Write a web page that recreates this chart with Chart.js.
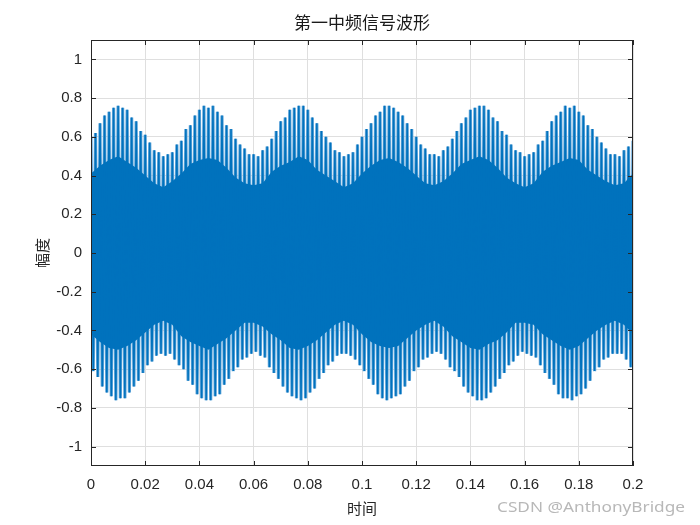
<!DOCTYPE html>
<html>
<head>
<meta charset="utf-8">
<title>第一中频信号波形</title>
<script src="https://cdn.jsdelivr.net/npm/chart.js@4.4.1/dist/chart.umd.min.js"></script>
<style>
    html, body { margin: 0; padding: 0; background: #fff; }
    #wrap { width: 700px; height: 525px; }
</style>
</head>
<body>
<div id="wrap"><canvas id="waveChart" width="700" height="525"></canvas></div>
<script>
// axis ticks
const xTicks = [0, 0.02, 0.04, 0.06, 0.08, 0.1, 0.12, 0.14, 0.16, 0.18, 0.2];
const xTickLabels = ['0', '0.02', '0.04', '0.06', '0.08', '0.1', '0.12', '0.14', '0.16', '0.18', '0.2'];
const yTicks = [-1, -0.8, -0.6, -0.4, -0.2, 0, 0.2, 0.4, 0.6, 0.8, 1];
const yTickLabels = ['-1', '-0.8', '-0.6', '-0.4', '-0.2', '0', '0.2', '0.4', '0.6', '0.8', '1'];

// spike tips, 120 spikes over 0.2 s
const spikeStep = 0.2 / 120;
const upperTips = [
    0.60, 0.62, 0.67, 0.71, 0.73, 0.75, 0.76, 0.75, 0.74, 0.70, 0.68, 0.63, 0.61, 0.57, 0.53, 0.52, 0.50, 0.51, 0.52, 0.56,
    0.58, 0.64, 0.66, 0.71, 0.74, 0.76, 0.75, 0.76, 0.73, 0.71, 0.66, 0.64, 0.59, 0.56, 0.54, 0.51, 0.51, 0.50, 0.53, 0.55,
    0.59, 0.63, 0.68, 0.70, 0.74, 0.75, 0.76, 0.76, 0.74, 0.70, 0.67, 0.63, 0.60, 0.57, 0.53, 0.52, 0.50, 0.51, 0.52, 0.56,
    0.60, 0.64, 0.67, 0.71, 0.73, 0.76, 0.76, 0.75, 0.73, 0.71, 0.67, 0.64, 0.60, 0.56, 0.54, 0.51, 0.51, 0.50, 0.53, 0.55,
    0.59, 0.63, 0.67, 0.70, 0.74, 0.75, 0.76, 0.76, 0.74, 0.70, 0.68, 0.63, 0.61, 0.56, 0.53, 0.52, 0.50, 0.51, 0.52, 0.56,
    0.58, 0.63, 0.68, 0.71, 0.73, 0.76, 0.75, 0.76, 0.73, 0.71, 0.66, 0.64, 0.60, 0.57, 0.54, 0.51, 0.51, 0.50, 0.53, 0.55,
    0.58
];
const lowerTips = [
    -0.61, -0.64, -0.69, -0.72, -0.74, -0.76, -0.75, -0.75, -0.72, -0.69, -0.66, -0.62, -0.58, -0.56, -0.53, -0.52, -0.53, -0.52, -0.55, -0.58,
    -0.60, -0.66, -0.68, -0.73, -0.75, -0.76, -0.76, -0.74, -0.73, -0.68, -0.65, -0.61, -0.59, -0.55, -0.54, -0.52, -0.51, -0.53, -0.54, -0.59,
    -0.62, -0.65, -0.69, -0.72, -0.74, -0.75, -0.76, -0.75, -0.72, -0.70, -0.65, -0.62, -0.58, -0.56, -0.53, -0.52, -0.52, -0.53, -0.55, -0.58,
    -0.61, -0.65, -0.68, -0.73, -0.75, -0.76, -0.75, -0.74, -0.73, -0.69, -0.66, -0.61, -0.59, -0.55, -0.54, -0.52, -0.51, -0.52, -0.55, -0.59,
    -0.61, -0.64, -0.69, -0.72, -0.74, -0.76, -0.76, -0.75, -0.72, -0.69, -0.65, -0.62, -0.58, -0.56, -0.53, -0.51, -0.52, -0.53, -0.54, -0.58,
    -0.62, -0.65, -0.68, -0.73, -0.75, -0.75, -0.76, -0.74, -0.73, -0.70, -0.66, -0.61, -0.59, -0.55, -0.54, -0.52, -0.52, -0.52, -0.55, -0.59
];

// solid inner band (dense carrier), 61 samples over 0.2 s
const coreStep = 0.2 / 60;
const coreTop = [
    0.41, 0.45, 0.48, 0.50, 0.47, 0.44, 0.40, 0.36, 0.34, 0.37,
    0.41, 0.46, 0.48, 0.49, 0.48, 0.44, 0.39, 0.36, 0.35, 0.36,
    0.42, 0.45, 0.47, 0.50, 0.48, 0.43, 0.40, 0.37, 0.34, 0.36,
    0.41, 0.45, 0.48, 0.49, 0.47, 0.44, 0.40, 0.36, 0.35, 0.37,
    0.41, 0.46, 0.48, 0.50, 0.48, 0.44, 0.39, 0.36, 0.34, 0.36,
    0.42, 0.45, 0.47, 0.49, 0.48, 0.43, 0.40, 0.37, 0.35, 0.36,
    0.41
];
const coreBottom = [
    -0.42, -0.46, -0.49, -0.50, -0.48, -0.45, -0.41, -0.37, -0.35, -0.37,
    -0.43, -0.46, -0.48, -0.50, -0.47, -0.44, -0.40, -0.36, -0.36, -0.38,
    -0.42, -0.45, -0.49, -0.50, -0.48, -0.45, -0.41, -0.37, -0.35, -0.37,
    -0.42, -0.46, -0.48, -0.49, -0.48, -0.44, -0.40, -0.37, -0.35, -0.38,
    -0.43, -0.46, -0.49, -0.50, -0.47, -0.45, -0.41, -0.36, -0.36, -0.37,
    -0.42, -0.45, -0.48, -0.50, -0.48, -0.44, -0.40, -0.37, -0.35, -0.37,
    -0.42
];

const lineBlue = '#0072BD';
const lightBlue = '#62a6da';
const axisColor = '#262626';

// zigzag between upper and lower tips
const zigzag = [];
for (let i = 0; i < lowerTips.length; i++) {
    zigzag.push({ x: i * spikeStep, y: upperTips[i] });
    zigzag.push({ x: (i + 0.5) * spikeStep, y: lowerTips[i] });
}
zigzag.push({ x: lowerTips.length * spikeStep, y: upperTips[lowerTips.length] });

const coreTopPts = coreTop.map((v, j) => ({ x: j * coreStep, y: v }));
const coreBottomPts = coreBottom.map((v, j) => ({ x: j * coreStep, y: v }));

// box, inward ticks, title and watermark like the MATLAB figure
const matlabFrame = {
    id: 'matlabFrame',
    afterDraw(chart) {
        const { ctx, chartArea: a } = chart;
        const xs = chart.scales.x;
        const ys = chart.scales.y;
        ctx.save();
        ctx.strokeStyle = axisColor;
        ctx.lineWidth = 1;
        ctx.strokeRect(a.left + 0.5, a.top + 0.5, a.right - a.left - 1, a.bottom - a.top - 1);
        ctx.beginPath();
        xTicks.forEach(v => {
            const px = Math.round(xs.getPixelForValue(v)) + 0.5;
            ctx.moveTo(px, a.bottom);
            ctx.lineTo(px, a.bottom - 5);
            ctx.moveTo(px, a.top);
            ctx.lineTo(px, a.top + 5);
        });
        yTicks.forEach(v => {
            const py = Math.round(ys.getPixelForValue(v)) + 0.5;
            ctx.moveTo(a.left, py);
            ctx.lineTo(a.left + 5, py);
            ctx.moveTo(a.right, py);
            ctx.lineTo(a.right - 5, py);
        });
        ctx.stroke();

        ctx.fillStyle = '#1a1a1a';
        ctx.font = '17px "Noto Sans CJK SC"';
        ctx.textAlign = 'center';
        ctx.textBaseline = 'middle';
        ctx.fillText('第一中频信号波形', (a.left + a.right) / 2, 23);

        // watermark
        const mark = 'CSDN @AnthonyBridge';
        ctx.font = '15px "Noto Sans"';
        ctx.textAlign = 'left';
        ctx.textBaseline = 'alphabetic';
        ctx.fillStyle = '#b8b8b8';
        const w = ctx.measureText(mark).width;
        ctx.translate(497, 512);
        ctx.scale(188 / w, 1);
        ctx.fillText(mark, 0, 0);
        ctx.restore();
    }
};

const ctx = document.getElementById('waveChart');

new Chart(ctx, {
    type: 'line',
    data: {
        datasets: [
            {
                data: zigzag,
                borderColor: lightBlue,
                borderWidth: 3.2,
                pointRadius: 0,
                tension: 0,
                fill: false,
                order: 3
            },
            {
                data: coreTopPts,
                borderWidth: 0,
                pointRadius: 0,
                backgroundColor: lineBlue,
                fill: '+1',
                order: 2
            },
            {
                data: coreBottomPts,
                borderWidth: 0,
                pointRadius: 0,
                fill: false,
                order: 2
            },
            {
                data: zigzag,
                borderColor: lineBlue,
                borderWidth: 1.5,
                pointRadius: 0,
                tension: 0,
                fill: false,
                order: 1
            }
        ]
    },
    options: {
        responsive: false,
        animation: false,
        events: [],
        layout: { padding: { top: 40, right: 67, left: 0, bottom: 0 } },
        plugins: {
            legend: { display: false },
            tooltip: { enabled: false },
            title: { display: false }
        },
        scales: {
            x: {
                type: 'linear',
                min: 0,
                max: 0.2,
                afterBuildTicks: (scale) => { scale.ticks = xTicks.map(v => ({ value: v })); },
                afterFit: (scale) => { scale.height = 59; },
                ticks: {
                    autoSkip: false,
                    maxRotation: 0,
                    padding: 10,
                    color: axisColor,
                    font: { family: '"Liberation Sans", Arial', size: 15 },
                    callback: (v, i) => xTickLabels[i]
                },
                grid: { color: '#dfdfdf', drawTicks: false },
                border: { display: false },
                title: {
                    display: true,
                    text: '时间',
                    color: axisColor,
                    font: { family: '"Noto Sans CJK SC"', size: 15 },
                    padding: { top: 0, bottom: 8 }
                }
            },
            y: {
                type: 'linear',
                min: -1.1,
                max: 1.1,
                afterBuildTicks: (scale) => { scale.ticks = yTicks.map(v => ({ value: v })); },
                afterFit: (scale) => { scale.width = 91; },
                ticks: {
                    autoSkip: false,
                    padding: 9,
                    color: axisColor,
                    font: { family: '"Liberation Sans", Arial', size: 15 },
                    callback: (v, i) => yTickLabels[i]
                },
                grid: { color: '#dfdfdf', drawTicks: false },
                border: { display: false },
                title: {
                    display: true,
                    text: '幅度',
                    color: axisColor,
                    font: { family: '"Noto Sans CJK SC"', size: 15 },
                    padding: { top: 33, bottom: 0 }
                }
            }
        }
    },
    plugins: [matlabFrame]
});
</script>
</body>
</html>
